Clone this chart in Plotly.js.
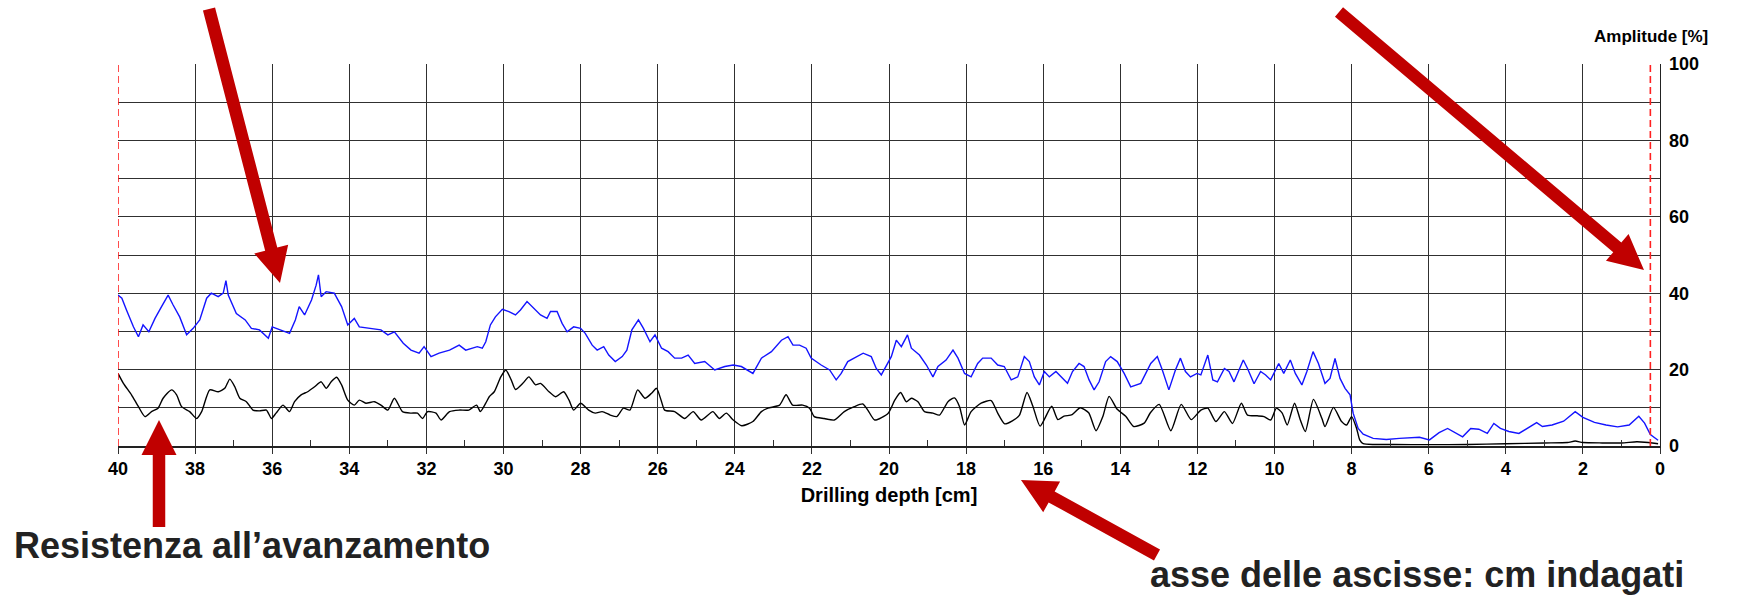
<!DOCTYPE html>
<html>
<head>
<meta charset="utf-8">
<script src="https://cdn.plot.ly/plotly-3.0.1.min.js"></script>
<style>html,body{margin:0;padding:0;background:#fff;}#chart{width:1744px;height:595px;}</style>
</head>
<body>
<div id="chart"></div>
<script>
// ---- data (depth in cm, value in %) ----
const amplitudeDepth = [40.0,39.9,39.78,39.6,39.47,39.35,39.2,39.04,38.87,38.7,38.57,38.4,38.22,38.05,37.88,37.7,37.58,37.4,37.27,37.2,37.14,36.93,36.7,36.54,36.33,36.1,36.0,35.8,35.55,35.4,35.3,35.16,34.98,34.86,34.8,34.73,34.6,34.39,34.2,34.04,33.87,33.74,33.48,33.18,33.0,32.83,32.6,32.4,32.19,32.06,31.88,31.67,31.4,31.15,30.98,30.68,30.55,30.46,30.34,30.21,30.03,29.86,29.69,29.56,29.39,29.22,29.04,28.87,28.78,28.61,28.48,28.35,28.18,28.0,27.88,27.7,27.57,27.4,27.27,27.1,26.92,26.8,26.67,26.5,26.37,26.2,26.07,25.9,25.73,25.56,25.38,25.21,25.04,24.78,24.52,24.26,24.04,23.83,23.66,23.53,23.31,23.05,22.79,22.62,22.49,22.32,22.15,22.02,21.76,21.54,21.37,21.24,21.07,20.89,20.67,20.46,20.33,20.2,20.07,19.94,19.81,19.68,19.52,19.42,19.21,19.03,18.86,18.73,18.52,18.34,18.21,18.04,17.87,17.7,17.57,17.35,17.18,17.01,16.83,16.66,16.49,16.36,16.23,16.1,15.97,15.84,15.67,15.5,15.37,15.24,15.07,14.94,14.81,14.68,14.55,14.38,14.25,14.08,13.9,13.73,13.47,13.34,13.21,13.04,12.91,12.74,12.57,12.44,12.31,12.18,12.01,11.91,11.73,11.6,11.48,11.3,11.18,11.05,10.81,10.7,10.53,10.36,10.23,10.1,10.0,9.89,9.76,9.59,9.46,9.29,9.16,9.0,8.86,8.69,8.56,8.43,8.3,8.17,8.04,7.96,7.83,7.7,7.44,7.1,6.76,6.24,5.98,5.73,5.51,5.38,5.12,4.91,4.7,4.48,4.31,4.14,3.92,3.66,3.45,3.2,3.05,2.8,2.5,2.2,2.0,1.7,1.4,1.1,0.8,0.55,0.4,0.25,0.05];
const amplitudeValue = [39.5,38.7,35.6,31.2,28.6,31.7,29.9,33.4,36.5,39.5,36.9,33.8,29.1,30.8,33,38.7,40,39.1,40,43.3,39.5,34.7,33,30.8,30.4,28.2,31.2,30.4,29.5,33,36.5,34.3,38.2,42.1,44.8,39.1,40.4,40,36.5,31.7,33.4,31.2,30.8,30.4,29.1,29.9,26.9,25.1,24.3,26,23.4,24.3,25.1,26.4,25.1,26,25.6,27.3,31.7,33.8,35.8,35.2,34.3,35.6,37.8,36,34.3,33.4,35.2,35.2,32.1,29.9,31.2,30.8,29.5,26.4,25.1,26,23.8,22.1,23.4,25.1,30.4,33,30.8,27.3,29.1,25.6,24.7,23,23,23.8,21.6,22.1,19.9,20.8,21.2,20.8,19.9,19,23,24.7,27.7,28.6,26.4,26.4,25.6,23,21.2,19.9,17.3,19,22.1,23,24.3,23.4,20.3,18.6,21.2,23.4,27.7,26,29.1,25.6,23.8,21.2,18.1,20.8,22.5,25.1,23,19,18.1,21.6,23,23,21.2,20.8,17.3,18.1,23.4,22.1,18.1,16,19.5,18.1,19.5,17.7,16.4,19.5,21.6,20.8,17.3,14.7,16.8,22.1,23.4,22.1,19,15.5,16.4,19,21.6,23.4,19.9,14.7,19.9,23,19.5,18.1,19,18.6,23.8,17.3,16.8,20.3,19.5,16.8,22.5,20.3,16.3,19.5,18.6,17.3,19.5,21.6,19,22.5,19,16,19.5,24.7,21.6,16.4,17.7,22.9,17.7,15.1,13.4,8.6,4.6,3.1,2,1.7,2,2.3,1.6,3.5,4.6,3.8,2.4,4.6,4.4,3.3,5.9,4.6,3.8,3.3,4.6,6.1,5.1,5.5,6.5,9.0,7.5,6.2,5.5,5.0,5.5,7.8,6.0,3.0,1.5];

const resistanceDepth = [40.0,39.86,39.65,39.47,39.3,39.13,38.96,38.83,38.61,38.48,38.35,38.14,37.96,37.83,37.62,37.4,37.23,37.1,36.97,36.84,36.67,36.5,36.33,36.15,36.02,35.9,35.72,35.55,35.42,35.25,35.08,34.9,34.73,34.6,34.47,34.33,34.2,34.04,33.87,33.74,33.57,33.35,33.18,33.0,32.83,32.62,32.4,32.23,32.1,31.97,31.75,31.62,31.4,31.15,30.9,30.7,30.6,30.46,30.37,30.24,30.07,29.94,29.8,29.69,29.5,29.34,29.17,29.04,28.82,28.65,28.44,28.3,28.18,28.0,27.79,27.62,27.44,27.23,27.06,26.89,26.72,26.52,26.33,26.16,26.03,25.9,25.82,25.56,25.3,25.08,24.87,24.57,24.4,24.22,24.04,23.82,23.53,23.31,23.14,22.84,22.67,22.5,22.24,22.06,21.94,21.68,21.42,21.16,20.9,20.68,20.55,20.37,20.02,19.85,19.7,19.55,19.42,19.25,19.08,18.86,18.69,18.47,18.3,18.17,18.04,17.87,17.61,17.35,17.18,17.0,16.8,16.62,16.42,16.27,16.08,15.78,15.62,15.46,15.25,15.04,14.82,14.63,14.45,14.29,14.08,13.86,13.65,13.38,13.22,12.99,12.69,12.42,12.16,11.91,11.73,11.52,11.3,11.09,10.86,10.7,10.45,10.27,10.1,9.95,9.8,9.67,9.48,9.33,9.2,8.99,8.77,8.69,8.47,8.26,8.13,8.0,7.87,7.79,7.7,7.4,6.9,6.0,5.0,4.0,3.0,2.4,2.2,2.0,1.5,1.0,0.6,0.4,0.2,0.05];
const resistanceValue = [19,16.4,13.4,10.3,7.7,9,9.9,12.5,14.7,13.4,10.3,9,7.2,9,14.7,14.2,15.1,17.5,15.5,12.5,11.6,9.4,9.2,9.4,7.2,8.6,10.7,9,11.6,13.4,14.2,15.5,16.8,15.1,16.8,18,16,12,10.7,12,11.2,11.6,10.7,9.4,12.5,9,8.6,8.6,7.2,9,8.6,6.8,9,9.4,9.4,10.7,9,11.2,12.9,14.2,18.1,19.9,17.3,14.8,16.4,18.1,16,16.4,14.2,12.9,14.2,12,9.4,11.2,9.4,8.6,9,8.1,7.7,9.9,9.4,14.7,12.5,13.8,15.1,11.6,9.4,9,7.2,9,6.8,9,7.2,8.6,6.8,5.3,6.4,9,9.9,10.7,13.4,10.7,10.7,9.9,7.7,7.2,6.8,9,10.3,11,9.4,6.8,8.6,12,14,11.6,12.5,11.6,9,8.6,8.1,11.6,12.6,10.3,5.5,9,11.2,11.9,8.6,5.8,6.6,8,14,10.5,5.2,10.4,6.9,7.8,8.2,10,8.7,4,7.8,13,9.6,7.8,5.1,6,8.7,10.9,4,10.9,6.9,9.4,9.9,6.4,9,5.9,11.2,8.1,7.9,7.7,6.8,9.9,8.6,5.5,11.2,6.8,3.8,12.2,7.2,5.1,10.1,6.4,5.5,7.7,4.6,1.6,0.6,0.4,0.4,0.35,0.4,0.6,0.8,0.9,1.3,0.9,0.8,0.8,1.1,1.0,0.8,0.6];

const depthTicks = [40,38,36,34,32,30,28,26,24,22,20,18,16,14,12,10,8,6,4,2,0];
const amplitudeTicks = [0,20,40,60,80,100];
const markerDepths = [40, 0.25];

const xTitle = 'Drilling depth [cm]';
const yTitle = 'Amplitude [%]';
const noteLeft = 'Resistenza all\u2019avanzamento';
const noteRight = 'asse delle ascisse: cm indagati';

// ---- layout geometry (pixels) ----
const FIG_W = 1744, FIG_H = 595;
const M = {l:118, r:84, t:64, b:149};
const PW = FIG_W - M.l - M.r, PH = FIG_H - M.t - M.b;
const px = x => (x - M.l) / PW;
const py = y => (FIG_H - M.b - y) / PH;

function arrowPath(x0, y0, x1, y1, sw, hw, hl) {
  const dx = x1 - x0, dy = y1 - y0, len = Math.hypot(dx, dy);
  const ux = dx/len, uy = dy/len, nx = -uy, ny = ux;
  const bx = x1 - ux*hl, by = y1 - uy*hl;
  const pts = [
    [x0 + nx*sw/2, y0 + ny*sw/2],
    [bx + nx*sw/2, by + ny*sw/2],
    [bx + nx*hw/2, by + ny*hw/2],
    [x1, y1],
    [bx - nx*hw/2, by - ny*hw/2],
    [bx - nx*sw/2, by - ny*sw/2],
    [x0 - nx*sw/2, y0 - ny*sw/2]
  ];
  return 'M' + pts.map(p => px(p[0]).toFixed(5) + ',' + py(p[1]).toFixed(5)).join(' L') + ' Z';
}

const arrows = [
  [209, 9, 280, 283],
  [1339, 12, 1644, 270],
  [159, 527, 159, 420],
  [1157, 555, 1021, 480]
];

const shapes = arrows.map(a => ({
  type:'path', xref:'paper', yref:'paper',
  path: arrowPath(a[0], a[1], a[2], a[3], 12.5, 35, 35),
  fillcolor:'#C00000', line:{width:0}, layer:'above'
}));
markerDepths.forEach(d => shapes.push({
  type:'line', xref:'x', yref:'paper', x0:d, x1:d, y0:0, y1:1,
  line:{color:'#ff2020', width:1.6, dash:'7px,4px'}, layer:'above'
}));

const FONT = 'Liberation Sans, Arial, Helvetica, sans-serif';
const GRID = '#303030';

const traces = [
  {x: amplitudeDepth, y: amplitudeValue, type:'scatter', mode:'lines',
   line:{color:'#1414ff', width:1.4}, name:'Amplitude'},
  {x: resistanceDepth, y: resistanceValue, type:'scatter', mode:'lines',
   line:{color:'#000000', width:1.4, shape:'spline', smoothing:0.6}, name:'Resistance'}
];

const layout = {
  width: FIG_W, height: FIG_H,
  margin: {l:M.l, r:M.r, t:M.t, b:M.b, autoexpand:false},
  paper_bgcolor:'#ffffff', plot_bgcolor:'#ffffff',
  showlegend:false,
  font:{family:FONT, color:'#000'},
  xaxis:{
    range:[40,0], tickmode:'array', tickvals:depthTicks, ticktext:depthTicks.map(String),
    showgrid:true, gridcolor:GRID, gridwidth:1, zeroline:false,
    showline:true, linecolor:'#222', linewidth:1.5,
    ticks:'outside', ticklen:6, tickcolor:GRID, tickwidth:1,
    tickfont:{family:FONT, size:18, weight:'bold', color:'#000'},
    minor:{tickmode:'linear', tick0:1, dtick:2, ticks:'inside', ticklen:6, tickcolor:GRID, tickwidth:1, showgrid:false},
    title:{text:xTitle, font:{family:FONT, size:20, weight:'bold', color:'#000'}, standoff:10},
    fixedrange:true
  },
  yaxis:{
    side:'right', range:[0,100], tickmode:'array', tickvals:amplitudeTicks, ticktext:amplitudeTicks.map(String),
    showgrid:true, gridcolor:GRID, gridwidth:1, zeroline:false,
    showline:true, linecolor:'#222', linewidth:1.3,
    ticks:'', ticklabelstandoff:4,
    tickfont:{family:FONT, size:18, weight:'bold', color:'#000'},
    minor:{tickmode:'linear', tick0:10, dtick:20, showgrid:true, gridcolor:GRID, gridwidth:1, ticks:''},
    fixedrange:true
  },
  shapes: shapes,
  annotations:[
    {text:yTitle, xref:'paper', yref:'paper', x:px(1710), y:py(37), xanchor:'right', yanchor:'middle',
     showarrow:false, font:{family:FONT, size:17, weight:'bold', color:'#000'}},
    {text:noteLeft, xref:'paper', yref:'paper', x:px(12), y:py(545), xanchor:'left', yanchor:'middle',
     showarrow:false, font:{family:FONT, size:36, weight:'bold', color:'#222'}},
    {text:noteRight, xref:'paper', yref:'paper', x:px(1148), y:py(574), xanchor:'left', yanchor:'middle',
     showarrow:false, font:{family:FONT, size:36, weight:'bold', color:'#222'}}
  ]
};

Plotly.newPlot('chart', traces, layout, {staticPlot:true, displayModeBar:false});
</script>
</body>
</html>
